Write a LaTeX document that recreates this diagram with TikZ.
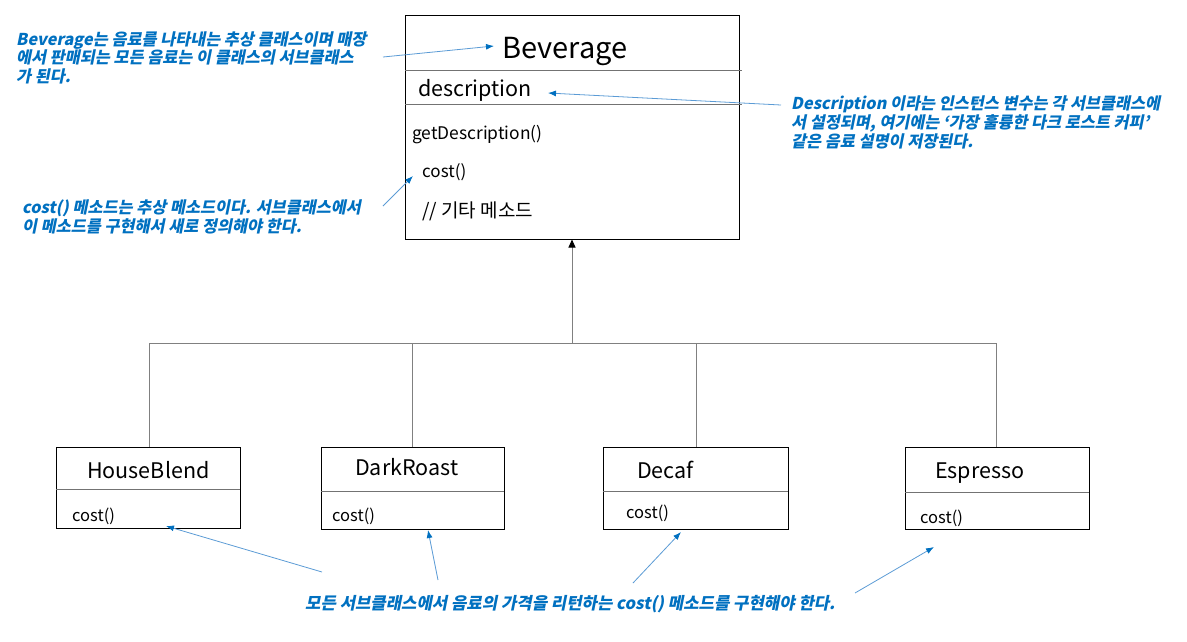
\documentclass[tikz,border=0pt]{standalone}
\usepackage{fontspec}
\setmainfont{Noto Sans CJK KR}
\newfontfamily\annotfont[FakeSlant=0.2,BoldFeatures={FakeSlant=0.2}]{Noto Sans CJK KR}
\usetikzlibrary{arrows.meta}
\definecolor{noteblue}{HTML}{0070C0}
\definecolor{lineblue}{HTML}{5B9BD5}
\begin{document}
\begin{tikzpicture}[x=1pt,y=-1pt,
  box/.style={draw=black,line width=1pt,inner sep=0pt,anchor=north west},
  divider/.style={draw=black!55,line width=0.9pt},
  inh/.style={draw=black!50,line width=1pt},
  lbl/.style={inner sep=0pt,anchor=base west},
  note/.style={text=noteblue,font=\annotfont\bfseries\fontsize{16.3}{19}\selectfont,align=left,inner sep=0pt,anchor=base west},
  callout/.style={draw=lineblue,line width=0.8pt,-{Latex[length=8pt,width=6pt,color=noteblue]}}]
\useasboundingbox (0,0) rectangle (1187,641);

% Beverage class
\node[box,minimum width=334pt,minimum height=224pt] (bev) at (405,15) {};
\draw[divider] (405,70.5) -- (742,70.5);
\draw[divider] (405,104) -- (742,104);
\node[inner sep=0pt,anchor=base,font=\fontsize{29}{34}\selectfont] (bevname) at (565,58) {Beverage};
\node[lbl,font=\fontsize{21.5}{25}\selectfont] (bevdesc) at (418,96) {description};
\node[lbl,font=\fontsize{17.4}{20}\selectfont] (bevget) at (412,139) {getDescription()};
\node[lbl,font=\fontsize{17}{20}\selectfont] (bevcost) at (422,177) {cost()};
\node[lbl,font=\fontsize{19}{22}\selectfont] (bevother) at (422,217) {// 기타 메소드};

% Subclasses
\node[box,minimum width=184pt,minimum height=81pt] (hb) at (56,447) {};
\draw[divider] (56,489) -- (240,489);
\node[lbl,font=\fontsize{21.5}{25}\selectfont] (hbname) at (87,478) {HouseBlend};
\node[lbl,font=\fontsize{16.5}{19}\selectfont] (hbcost) at (72,521) {cost()};

\node[box,minimum width=183pt,minimum height=82pt] (dr) at (321,447) {};
\draw[divider] (321,491) -- (504,491);
\node[lbl,font=\fontsize{21.5}{25}\selectfont] (drname) at (355,475) {DarkRoast};
\node[lbl,font=\fontsize{16.5}{19}\selectfont] (drcost) at (332,521) {cost()};

\node[box,minimum width=185pt,minimum height=82pt] (dc) at (603,447) {};
\draw[divider] (603,491) -- (788,491);
\node[lbl,font=\fontsize{21.5}{25}\selectfont] (dcname) at (637,478) {Decaf};
\node[lbl,font=\fontsize{16.5}{19}\selectfont] (dccost) at (626,518) {cost()};

\node[box,minimum width=184pt,minimum height=82pt] (es) at (905,447) {};
\draw[divider] (905,492) -- (1089,492);
\node[lbl,font=\fontsize{21.5}{25}\selectfont] (esname) at (935,478) {Espresso};
\node[lbl,font=\fontsize{16.5}{19}\selectfont] (escost) at (920,523) {cost()};

% Inheritance
\coordinate (bus) at (572,343);
\coordinate (bevbot) at (572,239.5);
\draw[inh,-{Triangle[length=8pt,width=7pt,color=black]}] (bus) -- (bevbot);
\draw[inh] (149,343) -- (996,343);
\draw[inh] (149,343) -- (hb.north -| 149,0);
\draw[inh] (412,343) -- (dr.north -| 412,0);
\draw[inh] (696,343) -- (dc.north -| 696,0);
\draw[inh] (996,343) -- (es.north -| 996,0);

% Annotations (base anchor = baseline of last line)
\node[note,font=\annotfont\bfseries\fontsize{16.3}{18.5}\selectfont] (n1) at (16,82) {Beverage는 음료를 나타내는 추상 클래스이며 매장\\에서 판매되는 모든 음료는 이 클래스의 서브클래스\\가 된다.};
\node[note] (n2) at (791,147) {Description 이라는 인스턴스 변수는 각 서브클래스에\\서 설정되며, 여기에는 ‘가장 훌륭한 다크 로스트 커피’\\같은 음료 설명이 저장된다.};
\node[note] (n3) at (22,232) {cost() 메소드는 추상 메소드이다. 서브클래스에서\\이 메소드를 구현해서 새로 정의해야 한다.};
\node[note,font=\annotfont\bfseries\fontsize{16.7}{19}\selectfont] (n4) at (305,609) {모든 서브클래스에서 음료의 가격을 리턴하는 cost() 메소드를 구현해야 한다.};

\coordinate (a1s) at (383,57);   \coordinate (a1e) at (494,46);
\coordinate (a2s) at (781,105);  \coordinate (a2e) at (548,93);
\coordinate (a3s) at (383,206);  \coordinate (a3e) at (413,176);
\coordinate (a4s) at (322,572);  \coordinate (a4e) at (166,526);
\coordinate (a5s) at (438,580);  \coordinate (a5e) at (428,530);
\coordinate (a6s) at (633,583);  \coordinate (a6e) at (681,532);
\coordinate (a7s) at (855,593);  \coordinate (a7e) at (934,547);
\draw[callout] (a1s) -- (a1e);
\draw[callout] (a2s) -- (a2e);
\draw[callout] (a3s) -- (a3e);
\draw[callout] (a4s) -- (a4e);
\draw[callout] (a5s) -- (a5e);
\draw[callout] (a6s) -- (a6e);
\draw[callout] (a7s) -- (a7e);
\end{tikzpicture}
\end{document}
